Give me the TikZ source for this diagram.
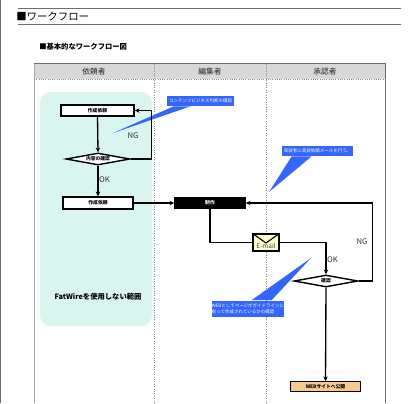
\documentclass[tikz,border=0pt]{standalone}
\usepackage{fontspec}
\setmainfont{Noto Sans CJK JP}
\usepackage{tikz}
\usetikzlibrary{arrows.meta,positioning,shapes.geometric,calc}
\definecolor{wfgray}{RGB}{110,110,110}
\definecolor{wfhead}{RGB}{216,216,216}
\definecolor{wfteal}{RGB}{217,245,240}
\definecolor{wfblue}{RGB}{51,102,255}
\definecolor{wforange}{RGB}{248,200,140}
\definecolor{wfcream}{RGB}{255,255,204}

\begin{document}
\begin{tikzpicture}[
  x=0.025cm, y=-0.025cm,
  box/.style={draw, rectangle, line width=1pt, fill=white, font=\fontsize{3.4}{4}\selectfont\bfseries, inner sep=0pt},
  dia/.style={draw, diamond, aspect=5.6, line width=1pt, fill=white, font=\fontsize{3.4}{4}\selectfont\bfseries, inner sep=0pt},
  note/.style={fill=wfblue, text=white, rectangle, align=left, font=\fontsize{3.2}{4.2}\selectfont, inner sep=0pt},
  lbl/.style={font=\fontsize{5.5}{6}\selectfont, text=black!80, inner sep=0pt},
  head/.style={font=\fontsize{5.5}{6}\selectfont, text=black!85, inner sep=0pt},
  >={Stealth[length=1.2mm,width=1.1mm]},
  arrline/.style={->, line width=0.95pt},
  sepline/.style={black!45, densely dotted, line width=0.7pt},
]
\useasboundingbox (0,0) rectangle (420,403);

% ============ Page title ============
\draw[wfgray, line width=0.9pt] (0.5,0) -- (0.5,403);
\coordinate (rule1l) at (18,8.5);
\coordinate (rule1r) at (401,8.5);
\coordinate (rule2l) at (18,24.5);
\coordinate (rule2r) at (401,24.5);
\draw[wfgray, line width=0.6pt] (rule1l) -- (rule1r);
\draw[wfgray, line width=0.6pt] (rule2l) -- (rule2r);
\node[anchor=west, inner sep=0pt, font=\fontsize{7.4}{8}\selectfont] (pagetitle) at (16,17) {■ワークフロー};
\node[anchor=west, inner sep=0pt, font=\fontsize{5.2}{6}\selectfont\bfseries] (subtitle) at (39,47) {■基本的なワークフロー図};

% ============ Swimlane frame ============
\fill[wfhead] (34,63.5) rectangle (385,79);
\draw[black!35, line width=1.3pt] (34.5,63.5) -- (34.5,403);
\draw[wfgray, line width=0.6pt] (34,63.5) -- (385,63.5) -- (385,403);
\draw[black!45, densely dotted, line width=0.6pt] (34,79) -- (385,79);
\draw[sepline] (154.5,63.5) -- (154.5,403);
\draw[sepline] (266,63.5) -- (266,403);
\node[head] (lane1) at (94,72) {依頼者};
\node[head] (lane2) at (210,72) {編集者};
\node[head] (lane3) at (325,72) {承認者};

% ============ Area without FatWire ============
\node[fill=wfteal, rectangle, rounded corners=2.6mm, minimum width=2.8cm, minimum height=5.85cm, inner sep=0pt] (area) at (96,209) {};
\node[inner sep=0pt, font=\fontsize{5.2}{6}\selectfont\bfseries] (areatext) at (98,297) {FatWireを使用しない範囲};

% ============ Flow boxes ============
\node[box, minimum width=1.825cm, minimum height=0.275cm] (request1) at (97.5,110.5) {作成依頼};
\node[dia, minimum width=1.6cm, minimum height=0.3cm] (check1) at (98,159) {内容の確認};
\node[box, minimum width=1.75cm, minimum height=0.3cm] (request2) at (98,203) {作成依頼};
\node[box, fill=black, text=white, minimum width=1.75cm, minimum height=0.275cm] (make) at (210,203) {制作};
\node[draw, rectangle, line width=1pt, fill=wfcream, minimum width=0.65cm, minimum height=0.425cm, inner sep=0pt] (mail) at (266,242.5) {};
\node[inner sep=0pt, font=\fontsize{4.6}{5}\selectfont, text=black!75] (mailtext) at (266,246) {E-mail};
\node[dia, minimum width=1.6cm, minimum height=0.3cm] (check2) at (326,281) {確認};
\node[box, fill=wforange, line width=0.5pt, minimum width=1.75cm, minimum height=0.25cm] (publish) at (325.5,386.5) {WEBサイトへ公開};

% ============ Envelope flap ============
\draw[line width=0.8pt] (mail.north west) -- (266,243) -- (mail.north east);

% ============ Notes ============
\node[note, minimum width=1.675cm, minimum height=0.25cm, align=center] (note1) at (200.5,101) {コンテンツビジネス判断の確認};
\node[note, minimum width=1.775cm, minimum height=0.25cm, align=center] (note2) at (317.5,151) {実装者に実装依頼メールを行う。};
\node[note, minimum width=1.75cm, minimum height=0.4cm] (note3) at (248,308.5) {WEBとしてページがガイドラインに\\則って作成されているかの確認};
\coordinate (tip1) at (113,133);
\coordinate (tip2) at (269,192);
\coordinate (tip3) at (311,258);
\fill[wfblue] ($(note1.south west)+(7,0)$) -- (tip1) -- ($(note1.south west)+(24,0)$) -- cycle;
\fill[wfblue] ($(note2.south west)+(10,0)$) -- (tip2) -- ($(note2.south west)+(30,0)$) -- cycle;
\fill[wfblue] ($(note3.north west)+(40,0)$) -- (tip3) -- ($(note3.north west)+(60,0)$) -- cycle;

% ===================== ARROWS =====================
\draw[arrline] (request1.south) -- (check1.north);
\draw[arrline] (check1.east) -- ++(21,0) |- (request1.east);
\node[lbl] (ngleft) at (133,136) {NG};
\draw[arrline] (check1.south) -- (request2.north);
\node[lbl] (okleft) at (104.5,180) {OK};
\draw[arrline] (request2.east) -- (make.west);
\coordinate (mailturn) at (make.south |- mail.west);
\draw[line width=0.95pt] (make.south) -- (mailturn) -- (mail.west);
\draw[arrline] (mail.east) -| (check2.north);
\node[lbl] (okright) at (332.5,260) {OK};
\draw[arrline] (check2.east) -- ++(14,0) |- (make.east);
\node[lbl] (ngright) at (362,242) {NG};
\draw[arrline] (check2.south) -- (publish.north);

\end{tikzpicture}
\end{document}
